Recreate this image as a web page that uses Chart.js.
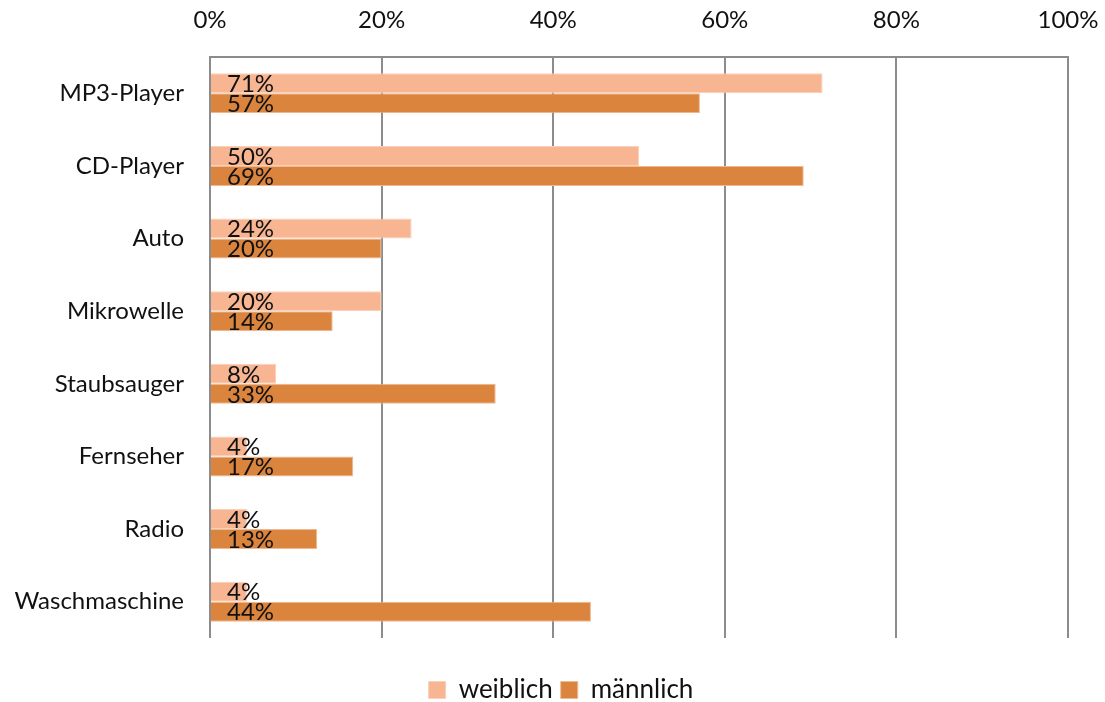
<!DOCTYPE html>
<html>
<head>
<meta charset="utf-8">
<script src="https://cdn.jsdelivr.net/npm/chart.js@4.4.1/dist/chart.umd.min.js"></script>
<style>
  html, body { margin: 0; padding: 0; background: #fff; }
  #wrap { width: 1105px; height: 702px; }
</style>
</head>
<body>
<div id="wrap"><canvas id="chart" width="1105" height="702"></canvas></div>
<script>
// Categories and shares (percent) per group
const categories = ['MP3-Player', 'CD-Player', 'Auto', 'Mikrowelle', 'Staubsauger', 'Fernseher', 'Radio', 'Waschmaschine'];
const weiblich = [71.4, 50.0, 23.5, 20.0, 7.7, 4.3, 4.3, 4.3];
const maennlich = [57.1, 69.2, 20.0, 14.3, 33.3, 16.7, 12.5, 44.4];
const xTicks = [0, 20, 40, 60, 80, 100];

const FONT = 'Lato, "Open Sans", sans-serif';
const GRID = '#8c8c8c';

// writes the rounded value at the start of each bar
const barLabels = {
    id: 'barLabels',
    afterDatasetsDraw(chart) {
        const ctx = chart.ctx;
        ctx.save();
        ctx.font = '24px ' + FONT;
        ctx.fillStyle = '#111';
        ctx.textBaseline = 'middle';
        ctx.textAlign = 'left';
        chart.data.datasets.forEach((ds, i) => {
            const meta = chart.getDatasetMeta(i);
            meta.data.forEach((bar, j) => {
                ctx.fillText(Math.round(ds.data[j]) + '%', bar.base + 16, bar.y + 1);
            });
        });
        ctx.restore();
    }
};

// nudge the legend a bit right of the canvas centre
const legendShift = {
    id: 'legendShift',
    afterLayout(chart) {
        chart.legend.left += 27;
        chart.legend.right += 27;
    }
};

new Chart(document.getElementById('chart'), {
    type: 'bar',
    data: {
        labels: categories,
        datasets: [
            {
                label: 'weiblich',
                data: weiblich,
                backgroundColor: '#f8b592',
                borderColor: '#fbd0b8',
                borderWidth: 1,
            },
            {
                label: 'männlich',
                data: maennlich,
                backgroundColor: '#da843e',
                borderColor: '#eeb892',
                borderWidth: 1,
            },
        ],
    },
    options: {
        indexAxis: 'y',
        responsive: false,
        animation: false,
        categoryPercentage: 0.55,
        barPercentage: 1,
        layout: {
            padding: { left: 0, right: 37, top: 0, bottom: -11 },
        },
        scales: {
            x: {
                position: 'top',
                min: 0,
                max: 100,
                afterFit: scale => {
                    scale.height = 57;
                    scale.paddingLeft = 0;
                    scale.paddingRight = 0;
                },
                afterBuildTicks: scale => {
                    scale.ticks = xTicks.map(v => ({ value: v }));
                },
                ticks: {
                    callback: v => v + '%',
                    font: { family: FONT, size: 24 },
                    color: '#111',
                    padding: 22,
                    maxRotation: 0,
                },
                grid: {
                    color: GRID,
                    lineWidth: 2,
                    drawTicks: false,
                },
                border: { display: true, color: GRID, width: 2 },
            },
            y: {
                afterFit: scale => { scale.width = 210; },
                ticks: {
                    font: { family: FONT, size: 24 },
                    color: '#111',
                    padding: 18,
                },
                grid: { display: false },
                border: { display: false },
            },
        },
        plugins: {
            legend: {
                position: 'bottom',
                title: {
                    display: true,
                    text: ' ',
                    font: { size: 10, lineHeight: 1 },
                    padding: { top: 21, bottom: 0 },
                },
                labels: {
                    font: { family: FONT, size: 26, lineHeight: 1 },
                    color: '#111',
                    boxWidth: 17,
                    boxHeight: 17,
                    padding: 8,
                },
            },
            tooltip: { enabled: false },
        },
    },
    plugins: [barLabels, legendShift],
});
</script>
</body>
</html>
